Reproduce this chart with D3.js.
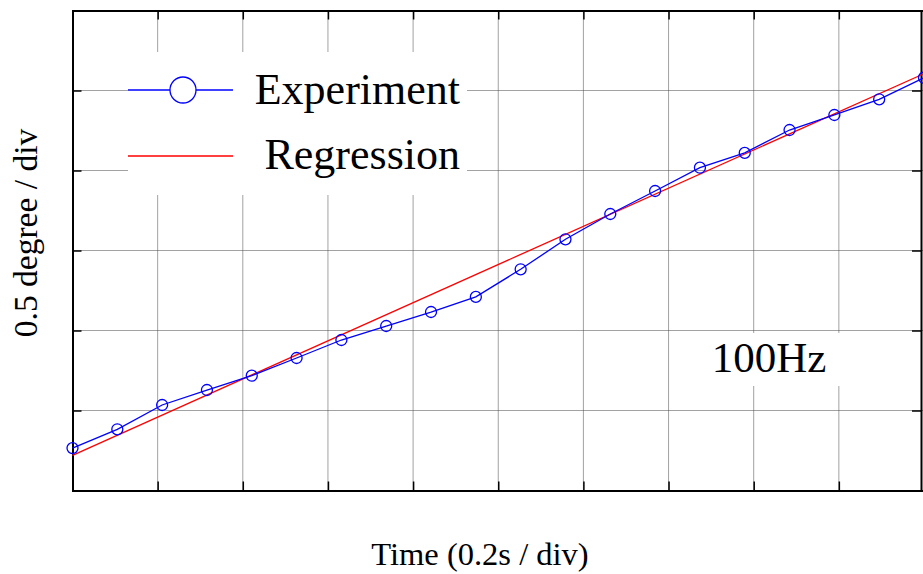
<!DOCTYPE html>
<html><head><meta charset="utf-8">
<script src="https://cdn.jsdelivr.net/npm/d3@7"></script>
<style>body{margin:0;background:#fff}svg{display:block}text{font-family:"Liberation Serif","Times New Roman",serif;fill:#000}</style>
</head><body>
<svg id="c" width="923" height="574"></svg>
<script>
// Data (y in divisions of 0.5 degree, x in divisions of 0.2 s)
const sampleIndex = d3.range(20);
const experiment = [0.53, 0.765, 1.069, 1.256, 1.435, 1.656, 1.881, 2.056, 2.231, 2.42,
                    2.765, 3.14, 3.456, 3.744, 4.035, 4.22, 4.506, 4.694, 4.89, 5.16];
const regressionX = [0, 10];
const regressionY = [0.44, 5.21];
const xTicks = d3.range(0, 11);
const yTicks = d3.range(0, 7);
const legendLabels = ["Experiment", "Regression"];
const annotation = "100Hz";
const xLabel = "Time (0.2s / div)";
const yLabel = "0.5 degree / div";

const svg = d3.select("#c");
const L = 72.5, R = 924, T = 10.5, B = 490.5;
const x = d3.scaleLinear().domain([0, 10]).range([L, R]);
const y = d3.scaleLinear().domain([0, 6]).range([B, T]);
const xi = i => x(i * 10 / 19);

// grid
const g = svg.append("g");
g.selectAll(".gx").data(xTicks).join("line")
  .attr("x1", d => x(d)).attr("x2", d => x(d)).attr("y1", T).attr("y2", B)
  .attr("stroke", "#444").attr("stroke-width", 1).attr("stroke-dasharray", "1,1");
g.selectAll(".gy").data(yTicks).join("line")
  .attr("x1", L).attr("x2", R).attr("y1", d => y(d)).attr("y2", d => y(d))
  .attr("stroke", "#444").attr("stroke-width", 1).attr("stroke-dasharray", "1,1");

// legend background and annotation background (cover grid)
svg.append("rect").attr("x", 128).attr("y", 52).attr("width", 339).attr("height", 143).attr("fill", "#fff");
svg.append("rect").attr("x", 700).attr("y", 333).attr("width", 140).attr("height", 53).attr("fill", "#fff");

// axes frame with inward ticks
const tl = 9;
const axB = d3.axisBottom(x).tickValues(xTicks).tickSize(-tl).tickFormat("");
const axT = d3.axisTop(x).tickValues(xTicks).tickSize(-tl).tickFormat("");
const axL = d3.axisLeft(y).tickValues(yTicks).tickSize(-tl).tickFormat("");
const axR = d3.axisRight(y).tickValues(yTicks).tickSize(-tl).tickFormat("");
[[axB, `translate(0,${B})`], [axT, `translate(0,${T})`], [axL, `translate(${L},0)`], [axR, `translate(${R - 3},0)`]]
  .forEach(([a, t]) => {
    const s = svg.append("g").attr("transform", t).call(a);
    s.selectAll("path").attr("stroke", "#000").attr("stroke-width", 2);
    s.selectAll("line").attr("stroke", "#000").attr("stroke-width", 1.5);
  });

// regression line
svg.append("path").datum(regressionX.map((d, i) => [d, regressionY[i]]))
  .attr("d", d3.line().x(d => x(d[0])).y(d => y(d[1])))
  .attr("fill", "none").attr("stroke", "#ff0000").attr("stroke-width", 1.3);

// experiment line + markers
svg.append("path").datum(experiment)
  .attr("d", d3.line().x((d, i) => xi(sampleIndex[i])).y(d => y(d)))
  .attr("fill", "none").attr("stroke", "#0000ff").attr("stroke-width", 1.3);
svg.selectAll(".pt").data(experiment).join("circle")
  .attr("cx", (d, i) => xi(sampleIndex[i])).attr("cy", d => y(d)).attr("r", 5.5)
  .attr("fill", "none").attr("stroke", "#0000ff").attr("stroke-width", 1.3);

// legend
svg.append("line").attr("x1", 128).attr("x2", 233).attr("y1", 90).attr("y2", 90)
  .attr("stroke", "#0000ff").attr("stroke-width", 1.3);
svg.append("circle").attr("cx", 183).attr("cy", 90).attr("r", 13)
  .attr("fill", "#fff").attr("stroke", "#0000ff").attr("stroke-width", 1.3);
svg.append("line").attr("x1", 128).attr("x2", 233).attr("y1", 156).attr("y2", 156)
  .attr("stroke", "#ff0000").attr("stroke-width", 1.3);
svg.append("text").attr("x", 460).attr("y", 104).attr("text-anchor", "end")
  .attr("font-size", 44).text(legendLabels[0]);
svg.append("text").attr("x", 460).attr("y", 169).attr("text-anchor", "end")
  .attr("font-size", 44).text(legendLabels[1]);

// annotation
svg.append("text").attr("x", 769).attr("y", 372).attr("text-anchor", "middle")
  .attr("font-size", 43).text(annotation);

// axis labels
svg.append("text").attr("x", 480).attr("y", 565).attr("text-anchor", "middle")
  .attr("font-size", 32.5).text(xLabel);
svg.append("text").attr("transform", "translate(37,233) rotate(-90)").attr("text-anchor", "middle")
  .attr("font-size", 33.5).text(yLabel);
</script>
</body></html>
